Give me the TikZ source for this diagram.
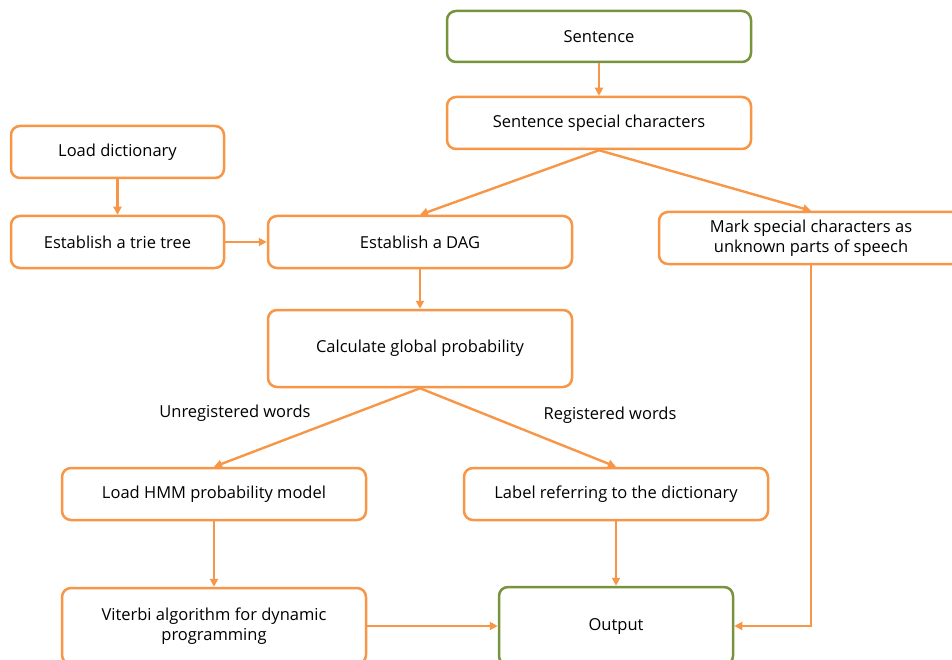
\documentclass[tikz,border=0pt]{standalone}
\usepackage{fontspec}
\setmainfont{Open Sans}
\usetikzlibrary{arrows.meta}
\definecolor{orng}{RGB}{247,150,70}
\definecolor{grn}{RGB}{119,147,60}
\tikzset{
  box/.style={draw=orng, line width=2.5pt, rounded corners=9pt, fill=white, inner sep=0pt, align=center, font=\fontsize{16.5}{20.5}\selectfont},
  gbox/.style={box, draw=grn},
  conn/.style={draw=orng, line width=2.4pt, -{Triangle[length=8pt,width=8pt]}},
  lbl/.style={font=\fontsize{16.5}{20.5}\selectfont}
}
\begin{document}
\begin{tikzpicture}[x=1pt,y=-1pt]
\useasboundingbox (0,0) rectangle (952,660);
\clip (0,0) rectangle (952,660);
\node[gbox, minimum width=304pt, minimum height=51pt] (sent) at (599,36.5) {Sentence};
\node[box, minimum width=304pt, minimum height=52pt] (ssc) at (599,123) {Sentence special characters};
\node[box, minimum width=213pt, minimum height=52pt] (ld) at (117.5,152) {Load dictionary};
\node[box, minimum width=213pt, minimum height=52pt] (trie) at (117.5,242) {Establish a trie tree};
\node[box, minimum width=304pt, minimum height=52pt] (dag) at (420,242) {Establish a DAG};
\node[box, minimum width=304pt, minimum height=52pt] (mark) at (811,238) {Mark special characters as\\unknown parts of speech};
\node[box, minimum width=304pt, minimum height=77pt] (cgp) at (420,348.5) {Calculate global probability};
\node[box, minimum width=304pt, minimum height=52pt] (hmm) at (214,494) {Load HMM probability model};
\node[box, minimum width=304pt, minimum height=52pt] (lab) at (616,494) {Label referring to the dictionary};
\node[box, minimum width=304pt, minimum height=76pt] (vit) at (214,626) {Viterbi algorithm for dynamic\\programming};
\node[gbox, minimum width=234pt, minimum height=78pt] (out) at (616,626) {Output};
\node[lbl] (unreg) at (235,413) {Unregistered words};
\node[lbl] (reg) at (610,415) {Registered words};
\draw[conn] (sent) -- (ssc);
\draw[conn] (ssc.south) -- (dag.north);
\draw[conn] (ssc.south) -- (mark.north);
\draw[conn] (ld) -- (trie);
\draw[conn] (trie) -- (dag);
\draw[conn] (dag) -- (cgp);
\draw[conn] (cgp.south) -- (hmm.north);
\draw[conn] (cgp.south) -- (lab.north);
\draw[conn] (hmm) -- (vit);
\draw[conn] (lab) -- (out);
\draw[conn] (vit.east) -- (vit.east -| out.west);
\draw[conn] (mark.south) |- (out.east);
\end{tikzpicture}
\end{document}
